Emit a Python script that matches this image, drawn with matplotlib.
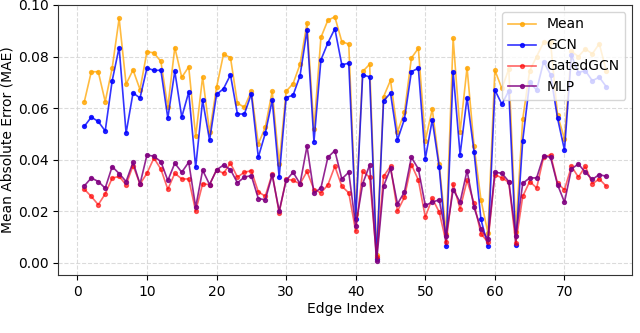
import matplotlib
matplotlib.use("Agg")
import matplotlib.pyplot as plt
import numpy as np

edge_index = list(range(1, 77))

mean_mae = [0.0625, 0.0741, 0.0741, 0.0625, 0.0755, 0.0948, 0.0693, 0.0748, 0.0672, 0.0819,
            0.0814, 0.0781, 0.0603, 0.0835, 0.0719, 0.0760, 0.0490, 0.0721, 0.0506, 0.0680,
            0.0809, 0.0796, 0.0619, 0.0603, 0.0666, 0.0461, 0.0525, 0.0665, 0.0383, 0.0665,
            0.0695, 0.0770, 0.0930, 0.0519, 0.0874, 0.0941, 0.0954, 0.0858, 0.0848, 0.0190,
            0.0742, 0.0770, 0.0030, 0.0644, 0.0708, 0.0508, 0.0583, 0.0794, 0.0832, 0.0474,
            0.0596, 0.0383, 0.0110, 0.0871, 0.0508, 0.0757, 0.0454, 0.0244, 0.0115, 0.0747,
            0.0676, 0.0752, 0.0120, 0.0557, 0.0745, 0.0800, 0.0855, 0.0855, 0.0573, 0.0480,
            0.0820, 0.0800, 0.0830, 0.0810, 0.0850, 0.0745]

gcn_mae = [0.0529, 0.0565, 0.0548, 0.0511, 0.0706, 0.0835, 0.0503, 0.0659, 0.0639, 0.0756,
           0.0746, 0.0747, 0.0561, 0.0743, 0.0565, 0.0662, 0.0370, 0.0631, 0.0475, 0.0653,
           0.0675, 0.0729, 0.0577, 0.0577, 0.0655, 0.0409, 0.0502, 0.0630, 0.0332, 0.0641,
           0.0650, 0.0726, 0.0902, 0.0470, 0.0787, 0.0853, 0.0908, 0.0768, 0.0774, 0.0170,
           0.0729, 0.0721, 0.0015, 0.0628, 0.0658, 0.0476, 0.0557, 0.0741, 0.0755, 0.0403,
           0.0554, 0.0370, 0.0064, 0.0741, 0.0419, 0.0641, 0.0431, 0.0168, 0.0064, 0.0670,
           0.0615, 0.0667, 0.0070, 0.0474, 0.0700, 0.0670, 0.0780, 0.0730, 0.0561, 0.0437,
           0.0805, 0.0738, 0.0745, 0.0706, 0.0720, 0.0683]

gatedgcn_mae = [0.0285, 0.0257, 0.0225, 0.0267, 0.0328, 0.0335, 0.0302, 0.0377, 0.0305, 0.0347,
                0.0406, 0.0363, 0.0285, 0.0347, 0.0325, 0.0325, 0.0200, 0.0306, 0.0303, 0.0360,
                0.0347, 0.0386, 0.0332, 0.0351, 0.0357, 0.0275, 0.0258, 0.0345, 0.0194, 0.0325,
                0.0319, 0.0306, 0.0354, 0.0284, 0.0271, 0.0302, 0.0374, 0.0297, 0.0271, 0.0122,
                0.0354, 0.0332, 0.0023, 0.0335, 0.0374, 0.0200, 0.0254, 0.0381, 0.0321, 0.0177,
                0.0250, 0.0196, 0.0079, 0.0306, 0.0209, 0.0319, 0.0231, 0.0112, 0.0080, 0.0342,
                0.0329, 0.0312, 0.0075, 0.0257, 0.0315, 0.0290, 0.0409, 0.0419, 0.0308, 0.0283,
                0.0374, 0.0332, 0.0374, 0.0306, 0.0325, 0.0297]

mlp_mae = [0.0298, 0.0329, 0.0315, 0.0289, 0.0373, 0.0346, 0.0315, 0.0390, 0.0305, 0.0418,
           0.0413, 0.0392, 0.0319, 0.0386, 0.0351, 0.0390, 0.0215, 0.0359, 0.0303, 0.0360,
           0.0379, 0.0361, 0.0310, 0.0332, 0.0338, 0.0249, 0.0244, 0.0340, 0.0200, 0.0319,
           0.0351, 0.0306, 0.0452, 0.0270, 0.0290, 0.0409, 0.0435, 0.0325, 0.0351, 0.0142,
           0.0306, 0.0379, 0.0005, 0.0297, 0.0366, 0.0228, 0.0274, 0.0409, 0.0364, 0.0222,
           0.0235, 0.0244, 0.0105, 0.0284, 0.0235, 0.0357, 0.0215, 0.0132, 0.0092, 0.0351,
           0.0347, 0.0315, 0.0105, 0.0308, 0.0329, 0.0329, 0.0415, 0.0409, 0.0303, 0.0235,
           0.0364, 0.0383, 0.0351, 0.0323, 0.0342, 0.0335]

series = [
    ("Mean", mean_mae, "orange", 0.75),
    ("GCN", gcn_mae, "blue", 0.8),
    ("GatedGCN", gatedgcn_mae, "red", 0.6),
    ("MLP", mlp_mae, "purple", 0.85),
]

fig = plt.figure(figsize=(6.4, 3.33), dpi=100)
ax = fig.add_axes([0.091, 0.174, 0.897, 0.811])

for name, vals, color, alpha in series:
    ax.plot(edge_index, vals, color=color, alpha=alpha, marker="o",
            markersize=2.8, linewidth=1.2, label=name)

ax.set_ylim(-0.0048, 0.1)
ax.set_xticks([0, 10, 20, 30, 40, 50, 60, 70])
ax.set_yticks([0.0, 0.02, 0.04, 0.06, 0.08, 0.10])
ax.set_yticklabels(["0.00", "0.02", "0.04", "0.06", "0.08", "0.10"])
ax.tick_params(labelsize=10)
for sp in ax.spines.values():
    sp.set_color("#333333")
ax.grid(True, linestyle="--", color="lightgray", alpha=0.8, linewidth=0.8)
ax.set_xlabel("Edge Index", fontsize=10, labelpad=2)
ax.set_ylabel("Mean Absolute Error (MAE)", fontsize=10, labelpad=2)
ax.legend(loc="upper right", fontsize=10, framealpha=0.8)

fig.savefig("out.png", dpi=100)
